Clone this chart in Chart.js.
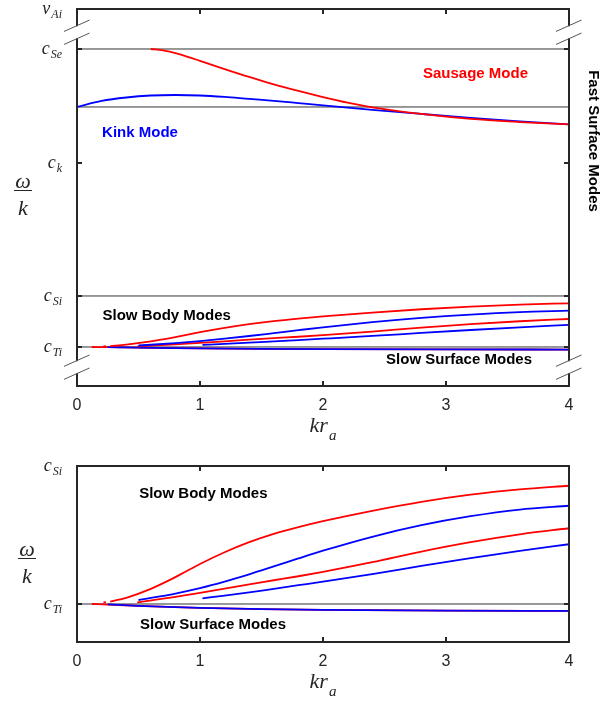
<!DOCTYPE html>
<html><head><meta charset="utf-8">
<script src="https://cdn.jsdelivr.net/npm/chart.js@4.4.0/dist/chart.umd.min.js"></script>
<style>
body{margin:0;background:#fff;width:601px;height:701px;overflow:hidden;position:relative}
canvas{position:absolute;left:0}
</style></head>
<body>
<canvas id="c1" width="601" height="450" style="top:0px"></canvas>
<canvas id="c2" width="601" height="251" style="top:450px"></canvas>
<script>
// ---- data (x = k r_a, y = phase speed omega/k in axis units) ----
const xTickValues = [0, 1, 2, 3, 4];
const speedSymbols = ['c', 'c', 'c', 'c', 'v'];
const speedSubscripts = ['Ti', 'Si', 'k', 'Se', 'Ai'];
const speedValues = [1, 2, 4.608, 6.843, 7.627];
const referenceLineValues = [1, 2, 5.706, 6.843];

const sausageFastX = [0.6, 0.7, 0.8, 0.9, 1.0, 1.2, 1.4, 1.6, 1.8, 2.0, 2.2, 2.4, 2.8, 3.2, 3.6, 4.0];
const sausageFastY = [6.843, 6.815, 6.760, 6.690, 6.610, 6.450, 6.295, 6.150, 6.020, 5.900, 5.790, 5.700, 5.569, 5.471, 5.410, 5.363];
const kinkFastX = [0, 0.2, 0.4, 0.6, 0.8, 1.0, 1.2, 1.4, 1.6, 1.8, 2.0, 2.4, 2.8, 3.2, 3.6, 4.0];
const kinkFastY = [5.706, 5.824, 5.892, 5.931, 5.941, 5.931, 5.902, 5.863, 5.826, 5.782, 5.737, 5.650, 5.569, 5.492, 5.424, 5.363];

const slowSausage1X = [0.27, 0.4, 0.6, 0.8, 1.0, 1.2, 1.4, 1.6, 1.8, 2.0, 2.4, 2.8, 3.2, 3.6, 4.0];
const slowSausage1Y = [1.018, 1.045, 1.110, 1.195, 1.290, 1.375, 1.448, 1.508, 1.557, 1.600, 1.675, 1.740, 1.792, 1.830, 1.857];
const slowKink1X = [0.5, 0.8, 1.0, 1.2, 1.4, 1.6, 1.8, 2.0, 2.4, 2.8, 3.2, 3.6, 4.0];
const slowKink1Y = [1.029, 1.076, 1.115, 1.162, 1.215, 1.272, 1.330, 1.386, 1.487, 1.571, 1.636, 1.684, 1.712];
const slowSausage2X = [0.49, 0.8, 1.0, 1.2, 1.4, 1.6, 1.8, 2.0, 2.4, 2.8, 3.2, 3.6, 4.0];
const slowSausage2Y = [1.012, 1.051, 1.080, 1.111, 1.143, 1.172, 1.201, 1.233, 1.303, 1.380, 1.448, 1.505, 1.549];
const slowKink2X = [1.02, 1.2, 1.4, 1.6, 1.8, 2.0, 2.4, 2.8, 3.2, 3.6, 4.0];
const slowKink2Y = [1.041, 1.060, 1.084, 1.110, 1.136, 1.162, 1.216, 1.276, 1.333, 1.385, 1.433];
const slowSausageDotX = [0.215, 0.235];
const slowSausageDotY = [1.012, 1.014];

const surfaceSausageX = [0.12, 0.25, 0.5, 0.8, 1.0, 1.5, 2.0, 3.0, 4.0];
const surfaceSausageY = [1.0, 0.996, 0.987, 0.977, 0.972, 0.963, 0.958, 0.952, 0.950];
const surfaceKinkX = [0.25, 0.5, 0.8, 1.0, 1.5, 2.0, 3.0, 4.0];
const surfaceKinkY = [0.997, 0.987, 0.977, 0.972, 0.963, 0.958, 0.952, 0.950];

// ---- styling ----
const RED = '#ff0000', BLUE = '#0000ff', AX = '#262626';
const LW = 1.8;

function series(xs, ys, color) {
  return { data: xs.map((x, i) => ({ x: x, y: ys[i] })), borderColor: color, borderWidth: LW,
    pointRadius: 0, fill: false, cubicInterpolationMode: 'monotone' };
}
function refLine(v) {
  return { data: [{ x: xTickValues[0], y: v }, { x: xTickValues[xTickValues.length - 1], y: v }],
    borderColor: '#333', borderWidth: 1, pointRadius: 0, fill: false, tension: 0 };
}

function line(ctx, x1, y1, x2, y2) { ctx.beginPath(); ctx.moveTo(x1, y1); ctx.lineTo(x2, y2); ctx.stroke(); }

const SERIF = '"Liberation Serif", "Times New Roman", serif';
const SANS = '"Liberation Sans", Arial, Helvetica, sans-serif';

const decor = {
  id: 'decor',
  afterDraw(chart) {
    const o = chart.options.plugins.decor;
    const ctx = chart.ctx, a = chart.chartArea, xs = chart.scales.x, ys = chart.scales.y;
    ctx.save();
    // box
    ctx.strokeStyle = AX; ctx.lineWidth = 2;
    ctx.strokeRect(a.left, a.top, a.right - a.left, a.bottom - a.top);
    // x ticks + labels
    ctx.fillStyle = AX;
    ctx.font = '16px ' + SANS; ctx.textAlign = 'center'; ctx.textBaseline = 'middle';
    xTickValues.forEach(v => {
      const px = xs.getPixelForValue(v);
      if (px > a.left + 1 && px < a.right - 1) {
        line(ctx, px, a.bottom, px, a.bottom - 5);
        line(ctx, px, a.top, px, a.top + 5);
      }
      ctx.fillText(String(v), px, a.bottom + 20);
    });
    // y ticks + labels
    speedValues.forEach((v, i) => {
      if (v < ys.min - 1e-6 || v > ys.max + 1e-6) return;
      const py = ys.getPixelForValue(v);
      if (Math.abs(py - a.top) > 1 && Math.abs(py - a.bottom) > 1) {
        line(ctx, a.left, py, a.left + 5, py);
        line(ctx, a.right, py, a.right - 5, py);
      }
      ctx.fillStyle = AX; ctx.textAlign = 'left'; ctx.textBaseline = 'alphabetic';
      ctx.font = 'italic 18px ' + SERIF;
      const wm = ctx.measureText(speedSymbols[i]).width;
      ctx.font = 'italic 12px ' + SERIF;
      const ws = ctx.measureText(speedSubscripts[i]).width;
      const x0 = a.left - 15 - wm - ws - 1;
      ctx.font = 'italic 18px ' + SERIF;
      ctx.fillText(speedSymbols[i], x0, py + 5);
      ctx.font = 'italic 12px ' + SERIF;
      ctx.fillText(speedSubscripts[i], x0 + wm + 1, py + 9);
    });
    // axis breaks
    (o.breaks || []).forEach(b => {
      const py = ys.getPixelForValue(b);
      [a.left, a.right].forEach(x0 => {
        ctx.fillStyle = '#fff';
        ctx.fillRect(x0 - 2, py - 6, 4, 12);
        ctx.strokeStyle = '#555'; ctx.lineWidth = 1;
        [-6.5, 6.5].forEach(d => line(ctx, x0 - 13, py + d + 5.7, x0 + 12.5, py + d - 5.7));
      });
    });
    // omega / k label
    const bx = o.omegaX, by = a.top + o.omegaBar;
    ctx.fillStyle = AX; ctx.strokeStyle = AX; ctx.lineWidth = 1;
    ctx.textAlign = 'center'; ctx.textBaseline = 'alphabetic';
    ctx.font = 'italic 22px ' + SERIF;
    ctx.fillText('\u03c9', bx, by - 2);
    ctx.fillText('k', bx, by + 25);
    line(ctx, bx - 9, by + 0.5, bx + 9, by + 0.5);
    // x-axis title k r_a
    ctx.font = 'italic 22px ' + SERIF;
    const wk = ctx.measureText('kr').width;
    ctx.font = 'italic 15px ' + SERIF;
    const wa = ctx.measureText('a').width;
    const cx = (a.left + a.right) / 2;
    const tx = cx - (wk + wa + 1) / 2;
    ctx.textAlign = 'left';
    ctx.font = 'italic 22px ' + SERIF;
    ctx.fillText('kr', tx, a.bottom + 46);
    ctx.font = 'italic 15px ' + SERIF;
    ctx.fillText('a', tx + wk + 1, a.bottom + 54);
    // annotations
    ctx.font = 'bold 15px ' + SANS; ctx.textAlign = 'center'; ctx.textBaseline = 'middle';
    (o.notes || []).forEach(n => {
      const px = xs.getPixelForValue(n.x), py = ys.getPixelForValue(n.y);
      ctx.fillStyle = n.color;
      if (n.rot) {
        ctx.save(); ctx.translate(px, py); ctx.rotate(Math.PI / 2);
        ctx.fillText(n.text, 0, 0); ctx.restore();
      } else ctx.fillText(n.text, px, py);
    });
    ctx.restore();
  }
};

function makeChart(id, datasets, yMin, yMax, pad, decorOpts) {
  return new Chart(document.getElementById(id), {
    type: 'line',
    data: { datasets: datasets },
    options: {
      responsive: false, animation: false, devicePixelRatio: 1,
      layout: { padding: pad },
      scales: {
        x: { type: 'linear', min: xTickValues[0], max: xTickValues[xTickValues.length - 1], display: false },
        y: { type: 'linear', min: yMin, max: yMax, display: false }
      },
      plugins: { legend: { display: false }, tooltip: { enabled: false }, decor: decorOpts }
    },
    plugins: [decor]
  });
}

const slowSets = () => [
  series(slowSausage1X, slowSausage1Y, RED),
  series(slowKink1X, slowKink1Y, BLUE),
  series(slowSausage2X, slowSausage2Y, RED),
  series(slowKink2X, slowKink2Y, BLUE),
  series(surfaceKinkX, surfaceKinkY, BLUE),
  series(surfaceSausageX, surfaceSausageY, RED),
  series(slowSausageDotX, slowSausageDotY, RED)
];

makeChart('c1', [
  series(sausageFastX, sausageFastY, RED),
  series(kinkFastX, kinkFastY, BLUE),
  ...slowSets(),
  ...referenceLineValues.map(refLine)
], 0.235, 7.627, { left: 77, right: 32, top: 9, bottom: 64 }, {
  breaks: [7.171, 0.604], omegaX: 23, omegaBar: 181,
  notes: [
    { text: 'Sausage Mode', x: 3.24, y: 6.353, color: RED },
    { text: 'Kink Mode', x: 0.512, y: 5.206, color: BLUE },
    { text: 'Slow Body Modes', x: 0.729, y: 1.608, color: '#000' },
    { text: 'Slow Surface Modes', x: 3.106, y: 0.74, color: '#000' },
    { text: 'Fast Surface Modes', x: 4.195, y: 5.039, color: '#000', rot: true }
  ]
});

makeChart('c2', [
  ...slowSets(),
  ...referenceLineValues.filter(v => v < 2).map(refLine)
], 0.7246, 2.0, { left: 77, right: 32, top: 16, bottom: 59 }, {
  breaks: [], omegaX: 27, omegaBar: 92,
  notes: [
    { text: 'Slow Body Modes', x: 1.027, y: 1.797, color: '#000' },
    { text: 'Slow Surface Modes', x: 1.106, y: 0.851, color: '#000' }
  ]
});
</script>
</body></html>
